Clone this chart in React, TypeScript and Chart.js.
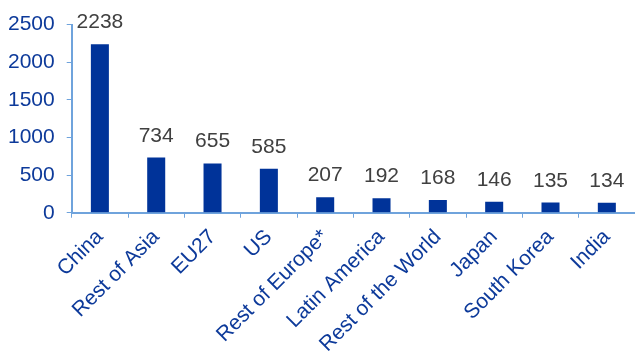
import React, { useEffect, useRef } from "react";
import { Chart, registerables } from "chart.js";

Chart.register(...registerables);

const categories = ["China", "Rest of Asia", "EU27", "US", "Rest of Europe*", "Latin America", "Rest of the World", "Japan", "South Korea", "India"];
const values = [2238, 734, 655, 585, 207, 192, 168, 146, 135, 134];
const yTicks = [0, 500, 1000, 1500, 2000, 2500];

const BAR = "#003399";
const AXIS = "#6FA3DC";
const TICK_TEXT = "#0D3A9A";
const LABEL_TEXT = "#404040";
const FONT = "Liberation Sans, Arial, sans-serif";
const FS = 21;

const valueLabels = {
  id: "valueLabels",
  afterDatasetsDraw(chart: any) {
    const ctx = chart.ctx;
    const meta = chart.getDatasetMeta(0);
    ctx.save();
    ctx.font = `${FS}px ${FONT}`;
    ctx.fillStyle = LABEL_TEXT;
    ctx.textAlign = "center";
    ctx.textBaseline = "alphabetic";
    meta.data.forEach((el: any, i: number) => {
      ctx.fillText(String(values[i]), el.x, el.y - 16);
    });
    ctx.restore();
  },
};

export default function App() {
  const ref = useRef<HTMLCanvasElement>(null);
  useEffect(() => {
    document.body.style.margin = "0";
    const chart = new Chart(ref.current!, {
      type: "bar",
      data: {
        labels: categories,
        datasets: [{ data: values, backgroundColor: BAR, barPercentage: 0.64, categoryPercentage: 0.5 }],
      },
      options: {
        responsive: false,
        animation: false,
        layout: { padding: { top: 13, left: -4, right: 0, bottom: -8 } },
        plugins: { legend: { display: false }, tooltip: { enabled: false } },
        scales: {
          x: {
            grid: { drawOnChartArea: false, drawTicks: true, tickLength: 5, color: AXIS, offset: true },
            border: { color: AXIS, width: 2 },
            ticks: { color: TICK_TEXT, font: { family: FONT, size: FS }, minRotation: 45, maxRotation: 45, padding: 7 },
          },
          y: {
            min: 0,
            max: 2500,
            afterBuildTicks: (s: any) => { s.ticks = yTicks.map((v) => ({ value: v })); },
            grid: { drawOnChartArea: false, drawTicks: true, tickLength: 5, color: AXIS },
            border: { color: AXIS, width: 2 },
            ticks: { color: TICK_TEXT, font: { family: FONT, size: FS }, padding: 12, callback: (v: any) => String(v) },
          },
        },
      },
      plugins: [valueLabels],
    });
    return () => chart.destroy();
  }, []);
  return <canvas ref={ref} width={635} height={356} style={{ display: "block" }} />;
}
